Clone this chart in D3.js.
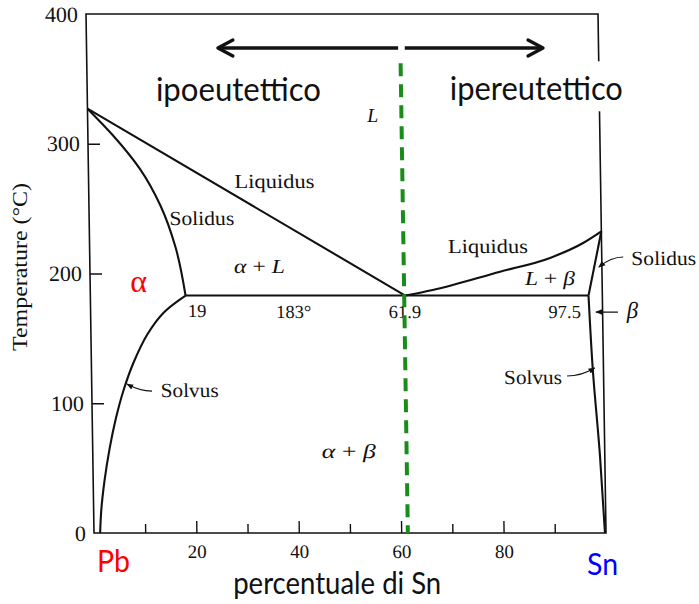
<!DOCTYPE html>
<html><head><meta charset="utf-8">
<script src="https://cdn.jsdelivr.net/npm/d3@7"></script>
<style>body{margin:0;background:#fff}svg{display:block}</style>
</head><body><svg id="c" width="699" height="604"></svg>
<script>
// ---------- data (composition in % Sn, temperature in °C) ----------
const tempTicks = [0, 100, 200, 300, 400];
const compTicks = [10, 20, 30, 40, 50, 60, 70, 80, 90];
const compLabelTicks = [20, 40, 60, 80];

const liquidusLeft = [[0, 327], [61.5, 183]];
const solidusLeft = [[0, 327], [5, 306], [10, 281], [14, 252], [16.8, 220], [18.6, 183]];
const solvusLeft = [[18.6, 183], [14.3, 170], [11, 153], [8.2, 131], [6.2, 110], [4.6, 88], [3.3, 65], [2.2, 40], [1.5, 18], [1.2, 0]];
const liquidusRight = [[61.5, 183], [66.9, 187.3], [80.1, 201.4], [89.9, 212], [96.4, 223.5], [100, 232.5]];
const solidusRight = [[97.3, 183], [100, 232.5]];
const solvusRight = [[97.3, 183], [97.9, 127], [99.05, 60], [99.8, 0]];
const eutecticLine = [[18.6, 183], [97.3, 183]];

const regionLabels = [
  {text: "L", c: 55.7, t: 316.8},
  {text: "Liquidus", c: 36.3, t: 266},
  {text: "Solidus", c: 22.0, t: 237.4},
  {text: "α + L", c: 33.1, t: 200.4},
  {text: "Liquidus", c: 77.8, t: 215.8},
  {text: "L + β", c: 89.8, t: 191.1},
  {text: "Solidus", c: 112.1, t: 206.6},
  {text: "β", c: 105.8, t: 165.7},
  {text: "Solvus", c: 86.2, t: 114.8},
  {text: "Solvus", c: 19.1, t: 104.8},
  {text: "α + β", c: 50.0, t: 57.8}
];
const pointLabels = [
  {text: "19", c: 20.8, t: 166.5},
  {text: "183°", c: 39.7, t: 165.7},
  {text: "61.9", c: 61.4, t: 165.7},
  {text: "97.5", c: 92.6, t: 165.7}
];
const leaders = [
  {from: [11.76, 109.4], to: [6.9, 114.8]},
  {from: [92.86, 121.0], to: [98.3, 127.2]},
  {from: [104.2, 212.7], to: [99.4, 205.0]},
  {from: [103.0, 170.3], to: [98.7, 170.3]}
];
const guideComp = 61.3, guideTop = 362;
const rangeArrows = [{from: 59.4, to: 24.2}, {from: 60.7, to: 87.7}];
const arrowTemp = 373.8;
const overlayWords = [
  {text: "ipoeutettico", c: 28.2, t: 333.0, len: 165},
  {text: "ipereutettico", c: 86.4, t: 333.5, len: 173}
];

// ---------- drawing ----------
const W = 699, H = 604;
const svg = d3.select("#c");
const x = d3.scaleLinear().domain([0, 100]).range([94, 606]);
const y = d3.scaleLinear().domain([0, 400]).range([533, 14]);
const serif = "'Liberation Serif','Times New Roman',serif";
const sans = "Lato,'Open Sans',sans-serif";
const ink = "#111";

svg.append("rect").attr("width", W).attr("height", H).attr("fill", "#fff");
const defs = svg.append("defs");
defs.append("marker").attr("id", "ah").attr("viewBox", "0 0 10 10")
  .attr("refX", 9).attr("refY", 5).attr("markerWidth", 7).attr("markerHeight", 7)
  .attr("markerUnits", "userSpaceOnUse").attr("orient", "auto")
  .append("path").attr("d", "M0,1 L10,5 L0,9 Z").attr("fill", ink);

// scanned diagram is slightly skewed
const g = svg.append("g")
  .attr("transform", `translate(0,${y(0)}) skewX(0.883) translate(0,${-y(0)})`);

// frame
g.append("path")
  .attr("d", `M${x(0)},${y(0)} L${x(0)},${y(400)} L${x(100)},${y(400)} L${x(100)},${y(0)} Z`)
  .attr("fill", "none").attr("stroke", ink).attr("stroke-width", 1.6);

// y axis
const ax = g.append("g").attr("transform", `translate(${x(0)},0)`)
  .call(d3.axisLeft(y).tickValues(tempTicks).tickSize(-12).tickPadding(8));
ax.select(".domain").remove();
ax.selectAll(".tick").filter(d => d === 0 || d === 400).select("line").remove();
ax.selectAll("line").attr("stroke", ink).attr("stroke-width", 1.4);
ax.selectAll("text").attr("font-family", serif).attr("font-size", 22).attr("fill", ink);

// x axis
const bx = g.append("g").attr("transform", `translate(0,${y(0)})`)
  .call(d3.axisBottom(x).tickValues(compTicks).tickSize(-12).tickPadding(12)
    .tickFormat(d => compLabelTicks.includes(d) ? d : ""));
bx.select(".domain").remove();
bx.selectAll(".tick line").attr("y2", d => compLabelTicks.includes(d) ? -12 : -9)
  .attr("stroke", ink).attr("stroke-width", 1.4);
bx.selectAll("text").attr("font-family", serif).attr("font-size", 19).attr("fill", ink);

// phase boundaries
const straight = d3.line().x(d => x(d[0])).y(d => y(d[1]));
const smoothY = d3.line().x(d => x(d[0])).y(d => y(d[1])).curve(d3.curveMonotoneY);
const smoothX = d3.line().x(d => x(d[0])).y(d => y(d[1])).curve(d3.curveMonotoneX);
const smoothC = d3.line().x(d => x(d[0])).y(d => y(d[1])).curve(d3.curveCatmullRom.alpha(0.5));
[[liquidusLeft, straight], [solidusLeft, smoothY], [solvusLeft, smoothC], [liquidusRight, smoothX],
 [solidusRight, straight], [solvusRight, smoothY], [eutecticLine, straight]].forEach(([d, gen]) => {
  g.append("path").attr("d", gen(d)).attr("fill", "none").attr("stroke", ink)
    .attr("stroke-width", 2.1).attr("stroke-linejoin", "round");
});

// labels
const wordLen = {"Liquidus": 80, "Solidus": 65, "Solvus": 58, "α + L": 51, "L + β": 50, "α + β": 54};
function addLabel(parent, d, size) {
  const t = parent.append("text").attr("x", x(d.c)).attr("y", y(d.t))
    .attr("text-anchor", "middle").attr("font-family", serif).attr("font-size", size).attr("fill", ink);
  if (/[a-z]/.test(d.text) || /[0-9]/.test(d.text)) {
    t.text(d.text);
  } else {
    for (const ch of d.text) {
      t.append("tspan").attr("font-style", "αβL".includes(ch) ? "italic" : "normal").text(ch);
    }
  }
  if (wordLen[d.text]) t.attr("textLength", wordLen[d.text]).attr("lengthAdjust", "spacingAndGlyphs");
  return t;
}
regionLabels.forEach(d => addLabel(g, d, d.text === "β" ? 23 : 20));
pointLabels.forEach(d => addLabel(g, d, 18.5));

// leaders
leaders.forEach(d => {
  const x1 = x(d.from[0]), y1 = y(d.from[1]), x2 = x(d.to[0]), y2 = y(d.to[1]);
  const cx = (x1 + x2) / 2, cy = y1;
  g.append("path").attr("d", `M${x1},${y1} Q${cx},${cy} ${x2},${y2}`)
    .attr("fill", "none").attr("stroke", ink).attr("stroke-width", 1.2).attr("marker-end", "url(#ah)");
});

// eutectic guide line
g.append("line").attr("x1", x(guideComp)).attr("x2", x(guideComp))
  .attr("y1", y(guideTop)).attr("y2", y(0))
  .attr("stroke", "#1a8c1a").attr("stroke-width", 4).attr("stroke-dasharray", "13,8");

// ---------- overlay ----------
const ov = svg.append("g");
overlayWords.forEach(d => {
  const t = ov.append("text").attr("x", x(d.c)).attr("y", y(d.t)).attr("text-anchor", "middle")
    .attr("font-family", sans).attr("font-size", 33).attr("fill", ink)
    .attr("textLength", d.len).attr("lengthAdjust", "spacingAndGlyphs").text(d.text);
  const b = t.node().getBBox();
  ov.insert("rect", "text").attr("x", b.x - 4).attr("y", b.y - 6)
    .attr("width", b.width + 8).attr("height", b.height + 10).attr("fill", "#fff");
});

rangeArrows.forEach(d => {
  const s = Math.sign(d.to - d.from), yy = y(arrowTemp), tip = x(d.to);
  ov.append("line").attr("x1", x(d.from)).attr("x2", tip - s * 2).attr("y1", yy).attr("y2", yy)
    .attr("stroke", ink).attr("stroke-width", 3.3);
  ov.append("path").attr("d", `M${tip - s * 15},${yy - 8} L${tip},${yy} L${tip - s * 15},${yy + 8}`)
    .attr("fill", "none").attr("stroke", ink).attr("stroke-width", 3.3).attr("stroke-linejoin", "round").attr("stroke-linecap", "round");
});

ov.append("text").attr("x", x(8.7)).attr("y", y(185.7)).attr("text-anchor", "middle")
  .attr("font-family", serif).attr("font-size", 32).attr("fill", "#ff0000").text("α");
ov.append("text").attr("x", x(0.6)).attr("y", y(-30)).attr("font-family", sans).attr("font-size", 31)
  .attr("fill", "#ff0000").attr("textLength", 33).attr("lengthAdjust", "spacingAndGlyphs").text("Pb");
ov.append("text").attr("x", x(96.3)).attr("y", y(-32.4)).attr("font-family", sans).attr("font-size", 31)
  .attr("fill", "#0000ff").attr("textLength", 31).attr("lengthAdjust", "spacingAndGlyphs").text("Sn");
ov.append("text").attr("x", x(47.5)).attr("y", y(-47)).attr("text-anchor", "middle")
  .attr("font-family", sans).attr("font-size", 30).attr("fill", ink)
  .attr("textLength", 208).attr("lengthAdjust", "spacingAndGlyphs").text("percentuale di Sn");
ov.append("text").attr("transform", "translate(27,267) rotate(-90)").attr("text-anchor", "middle")
  .attr("font-family", serif).attr("font-size", 20).attr("fill", ink)
  .attr("textLength", 168).attr("lengthAdjust", "spacingAndGlyphs").text("Temperature (°C)");
</script></body></html>
